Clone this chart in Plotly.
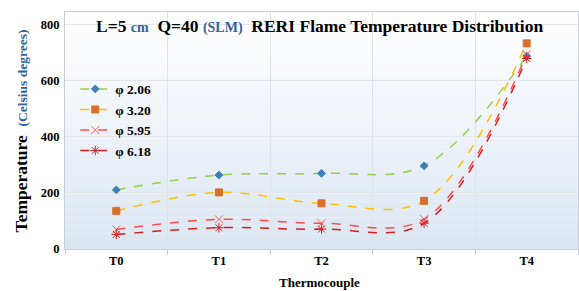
import plotly.graph_objects as go

categories = ["T0", "T1", "T2", "T3", "T4"]
series_names = ["φ 2.06", "φ 3.20", "φ 5.95", "φ 6.18"]
phi_206 = [211, 264, 270, 297, 689]
phi_320 = [136, 202, 163, 172, 734]
phi_595 = [70, 106, 92, 107, 695]
phi_618 = [52, 76, 71, 92, 680]
y_ticks = [0, 200, 400, 600, 800]

values = [phi_206, phi_320, phi_595, phi_618]
line_colors = ["#92d050", "#ffc000", "#ff4b4b", "#d42020"]
marker_colors = ["#3f7fb8", "#d8702a", "#ff6060", "#d42020"]
marker_symbols = ["diamond", "square", "x-thin-open", "asterisk-open"]
marker_sizes = [6, 7, 8, 8]

FONT = "Liberation Serif"
BLUE = "#2f63a0"

fig = go.Figure()
for name, vals, lc, mc, sym, sz in zip(series_names, values, line_colors,
                                       marker_colors, marker_symbols, marker_sizes):
    fig.add_trace(go.Scatter(
        x=categories, y=vals, name="<b>%s</b>" % name, mode="lines+markers",
        line=dict(color=lc, width=1.5, dash="dash", shape="spline", smoothing=1.0),
        marker=dict(color=mc, symbol=sym, size=sz,
                    line=dict(color=mc, width=1)),
    ))

# vertical gradient background of plot area
n = 30
top = (255, 255, 255)
bot = (220, 230, 242)
shapes = []
for i in range(n):
    t = i / (n - 1)
    c = tuple(round(bot[k] + (top[k] - bot[k]) * t) for k in range(3))
    shapes.append(dict(type="rect", xref="paper", yref="paper",
                       x0=0, x1=1, y0=i / n, y1=(i + 1) / n,
                       fillcolor="rgb(%d,%d,%d)" % c, line=dict(width=0),
                       layer="below"))

fig.update_layout(
    width=579, height=291,
    margin=dict(l=65, r=1, t=12, b=42, autoexpand=False),
    paper_bgcolor="white",
    plot_bgcolor="rgba(0,0,0,0)",
    shapes=shapes,
    font=dict(family=FONT, color="black", size=12),
    showlegend=True,
    legend=dict(x=0.02, y=0.74, xanchor="left", yanchor="top",
                bgcolor="rgba(0,0,0,0)", font=dict(family=FONT, size=13.5, color="black"),
                tracegroupgap=0, itemwidth=30),
    annotations=[
        dict(text="<b>L=5 <span style='color:%s;font-size:14px'>cm</span>  Q=40 "
                  "<span style='color:%s;font-size:14px'>(SLM)</span>  RERI Flame Temperature Distribution</b>" % (BLUE, BLUE),
             xref="paper", yref="paper", x=0.497, y=0.99, xanchor="center", yanchor="top",
             showarrow=False, font=dict(family=FONT, size=17.5, color="black")),
        dict(text="<b>Thermocouple</b>", xref="paper", yref="paper", x=0.497, y=-0.143,
             xanchor="center", yanchor="middle", showarrow=False,
             font=dict(family=FONT, size=13, color="black")),
        dict(text="<b>Temperature  <span style='color:%s;font-size:13.5px'>(Celsius degrees)</span></b>" % BLUE,
             xref="paper", yref="paper", x=-0.086, y=0.5, xanchor="center", yanchor="middle",
             textangle=-90, showarrow=False, font=dict(family=FONT, size=17.5, color="black")),
    ],
    xaxis=dict(
        type="category", tickson="boundaries", ticks="outside", ticklen=5,
        tickcolor="#c8ccd4", showgrid=True, gridcolor="#dfe2e6", gridwidth=1,
        showline=True, linecolor="#c8ccd4", mirror=True, automargin=False,
        tickfont=dict(family=FONT, size=12.5, color="black"),
        range=[-0.5, 4.5],
        tickvals=categories, ticktext=["<b>%s</b>" % c for c in categories],
    ),
    yaxis=dict(
        range=[0, 846], tickvals=y_ticks, ticktext=["<b>%d</b>" % v for v in y_ticks],
        showgrid=True, gridcolor="#e3e5e8", zeroline=False, automargin=False,
        showline=True, linecolor="#c8ccd4", mirror=True, ticklabelstandoff=2,
        tickfont=dict(family=FONT, size=12.5, color="black"),
    ),
)

fig.write_html("out.html", config={"displayModeBar": False},
               post_script="document.body.style.margin='0';document.body.style.overflow='hidden';")
